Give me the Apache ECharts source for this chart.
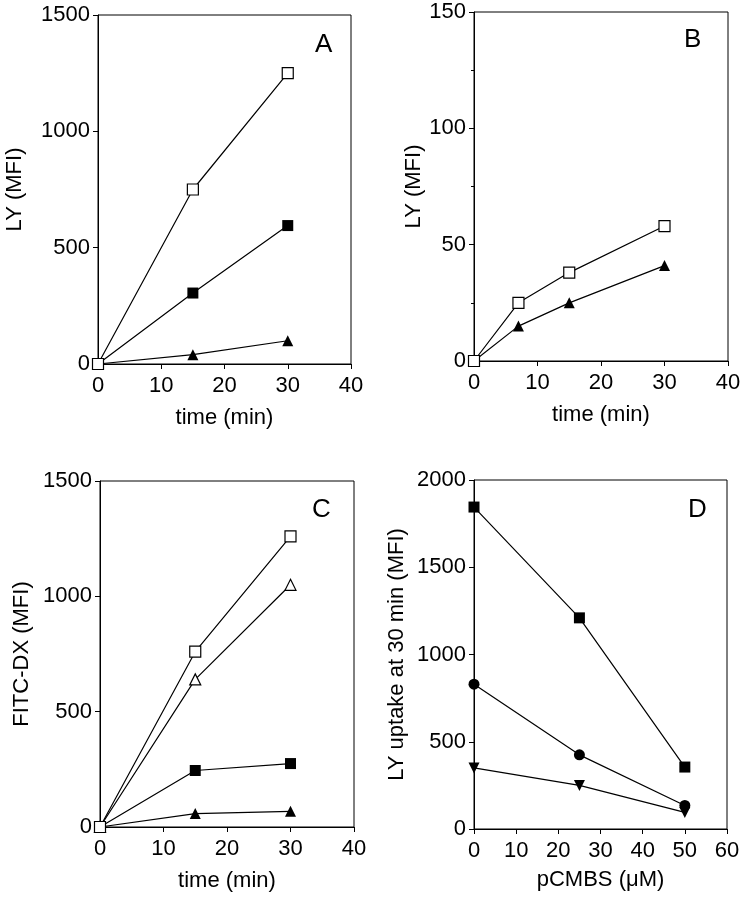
<!DOCTYPE html>
<html>
<head>
<meta charset="utf-8">
<script src="https://cdn.jsdelivr.net/npm/echarts@6/dist/echarts.min.js"></script>
<style>
  html, body { margin: 0; padding: 0; background: #fff; }
  #main { width: 747px; height: 899px; }
</style>
</head>
<body>
<div id="main"></div>
<script>
// 面板 A: LY 摄取随时间
var timeA = [0, 15, 30];
var aOpenSquare = [0, 750, 1250];
var aFilledSquare = [0, 305, 595];
var aFilledTriangle = [0, 40, 100];

// 面板 B
var timeB = [0, 7, 15, 30];
var bOpenSquare = [0, 25, 38, 58];
var bFilledTriangle = [0, 15, 25, 41];

// 面板 C: FITC-DX
var timeC = [0, 15, 30];
var cOpenSquare = [0, 760, 1260];
var cOpenTriangle = [0, 640, 1050];
var cFilledSquare = [0, 245, 275];
var cFilledTriangle = [0, 58, 68];

// 面板 D: pCMBS 浓度
var pcmbs = [0, 25, 50];
var dSquare = [1845, 1210, 355];
var dCircle = [830, 425, 135];
var dDownTriangle = [350, 250, 95];

var labels = ['A', 'B', 'C', 'D'];

var FONT = 'Liberation Sans, Arial, Helvetica, sans-serif';
var FS = 22;

function pairs(xs, ys) {
  return xs.map(function(x, i) { return [x, ys[i]]; });
}

function makeSeries(idx, xs, ys, symbol, filled, rotate) {
  return {
    type: 'line',
    xAxisIndex: idx,
    yAxisIndex: idx,
    data: pairs(xs, ys),
    symbol: symbol,
    symbolSize: 11,
    symbolRotate: rotate || 0,
    showAllSymbol: true,
    clip: false,
    animation: false,
    lineStyle: { color: '#000', width: 1.2 },
    itemStyle: {
      color: filled ? '#000' : '#fff',
      borderColor: '#000',
      borderWidth: filled ? 0 : 1.2
    },
    z: filled ? 3 : 4
  };
}

function xAxis(idx, max, name, nameGap) {
  return {
    type: 'value',
    gridIndex: idx,
    min: 0,
    max: max,
    interval: 10,
    name: name,
    nameLocation: 'middle',
    nameGap: nameGap,
    nameTextStyle: { fontFamily: FONT, fontSize: FS, color: '#000' },
    axisLine: { onZero: false, lineStyle: { color: '#000', width: 1 } },
    axisTick: { length: 5, lineStyle: { color: '#000' } },
    axisLabel: { fontFamily: FONT, fontSize: FS, color: '#000', margin: 11,
      formatter: function(v) { return String(v); } },
    splitLine: { show: false }
  };
}

function yAxis(idx, max, interval, name, nameGap, minor) {
  return {
    type: 'value',
    gridIndex: idx,
    min: 0,
    max: max,
    interval: interval,
    name: name,
    nameLocation: 'middle',
    nameGap: nameGap,
    nameTextStyle: { fontFamily: FONT, fontSize: FS, color: '#000' },
    axisLine: { onZero: false, lineStyle: { color: '#000', width: 1 } },
    axisTick: { length: 5, lineStyle: { color: '#000' } },
    minorTick: { show: !!minor, splitNumber: 2, length: 3, lineStyle: { color: '#000' } },
    axisLabel: { fontFamily: FONT, fontSize: FS, color: '#000', margin: 8,
      formatter: function(v) { return String(v); } },
    splitLine: { show: false }
  };
}

var chart = echarts.init(document.getElementById('main'));

var gridBox = { show: true, borderColor: '#000', borderWidth: 1, backgroundColor: 'transparent' };

var option = {
  backgroundColor: '#fff',
  animation: false,
  title: [
    { text: labels[0], left: 310, top: 27 },
    { text: labels[1], left: 679, top: 22 },
    { text: labels[2], left: 307, top: 492 },
    { text: labels[3], left: 683, top: 492 }
  ].map(function(t) {
    t.textStyle = { fontFamily: FONT, fontSize: 26, fontWeight: 'normal', color: '#000' };
    return t;
  }),
  grid: [
    Object.assign({ left: 98, top: 15, width: 253, height: 349 }, gridBox),
    Object.assign({ left: 474, top: 12, width: 254, height: 349 }, gridBox),
    Object.assign({ left: 100, top: 481, width: 254, height: 346 }, gridBox),
    Object.assign({ left: 474, top: 480, width: 253, height: 349 }, gridBox)
  ],
  xAxis: [
    xAxis(0, 40, 'time (min)', 43),
    xAxis(1, 40, 'time (min)', 43),
    xAxis(2, 40, 'time (min)', 43),
    xAxis(3, 60, 'pCMBS (\u03bcM)', 40)
  ],
  yAxis: [
    yAxis(0, 1500, 500, 'LY (MFI)', 72),
    yAxis(1, 150, 50, 'LY (MFI)', 46, true),
    yAxis(2, 1500, 500, 'FITC-DX (MFI)', 67),
    yAxis(3, 2000, 500, 'LY uptake at 30 min (MFI)', 66)
  ],
  series: [
    makeSeries(0, timeA, aFilledTriangle, 'triangle', true),
    makeSeries(0, timeA, aFilledSquare, 'rect', true),
    makeSeries(0, timeA, aOpenSquare, 'rect', false),

    makeSeries(1, timeB, bFilledTriangle, 'triangle', true),
    makeSeries(1, timeB, bOpenSquare, 'rect', false),

    makeSeries(2, timeC, cFilledTriangle, 'triangle', true),
    makeSeries(2, timeC, cFilledSquare, 'rect', true),
    makeSeries(2, timeC, cOpenTriangle, 'triangle', false),
    makeSeries(2, timeC, cOpenSquare, 'rect', false),

    makeSeries(3, pcmbs, dDownTriangle, 'triangle', true, 180),
    makeSeries(3, pcmbs, dCircle, 'circle', true),
    makeSeries(3, pcmbs, dSquare, 'rect', true)
  ]
};

chart.setOption(option);
</script>
</body>
</html>
